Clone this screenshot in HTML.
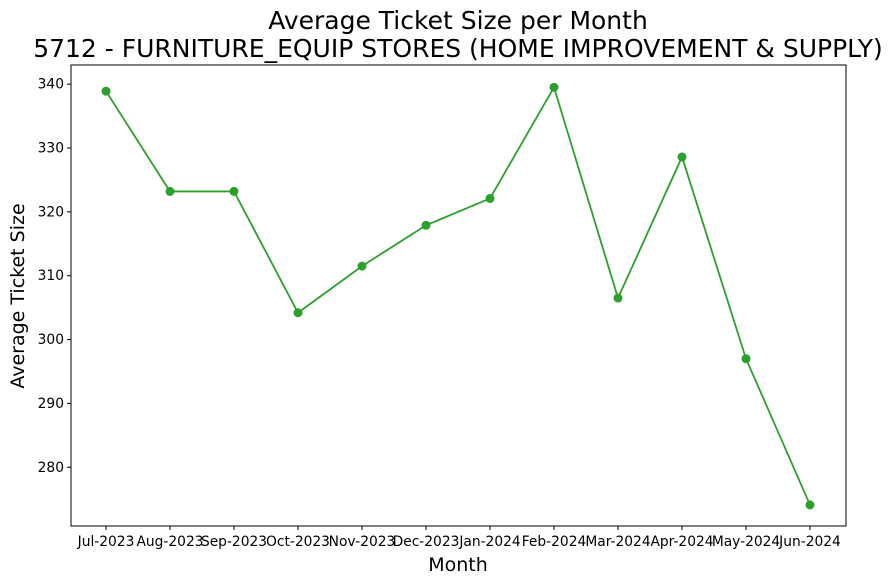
<!DOCTYPE html>
<html><head><meta charset="utf-8"><style>
body{margin:0;background:#fff;}
svg{display:block;font-family:"DejaVu Sans","Liberation Sans",sans-serif;}
</style></head><body>
<svg id="chart" width="893" height="585">
<text x="458" y="29" font-size="25" text-anchor="middle">Average Ticket Size per Month</text>
<text x="458" y="57" font-size="25" text-anchor="middle">5712 - FURNITURE_EQUIP STORES (HOME IMPROVEMENT &amp; SUPPLY)</text>
<text x="458" y="571" font-size="19" text-anchor="middle">Month</text>
<text transform="translate(24,296) rotate(-90)" font-size="19" text-anchor="middle">Average Ticket Size</text>
<g id="ticks"></g>
<g id="plot"></g>
<rect x="71" y="65" width="775" height="461" fill="none" stroke="#000" stroke-width="1"/>
</svg>
<script>
const months=["Jul-2023","Aug-2023","Sep-2023","Oct-2023","Nov-2023","Dec-2023","Jan-2024","Feb-2024","Mar-2024","Apr-2024","May-2024","Jun-2024"];
const values=[338.9,323.2,323.2,304.2,311.5,317.9,322.1,339.5,306.5,328.6,297.0,274.1];
const yTicks=[280,290,300,310,320,330,340];
const NS="http://www.w3.org/2000/svg";
const L=71,R=846,T=65,B=526,ymin=270.8,ymax=343.0;
const x0=106,x1=810;
function xs(i){return x0+i*(x1-x0)/(months.length-1);}
function ys(v){return B-(v-ymin)/(ymax-ymin)*(B-T);}
function mk(tag,a,p){const e=document.createElementNS(NS,tag);for(const k in a)e.setAttribute(k,a[k]);p.appendChild(e);return e;}
const tg=document.getElementById('ticks'),pg=document.getElementById('plot');
yTicks.forEach(t=>{const y=ys(t);
const l=mk('line',{x1:L-4,x2:L,y1:y,y2:y,stroke:'#000'},tg);


const tx=mk('text',{x:L-7,y:y+4.5,'font-size':13.8,'text-anchor':'end'},tg);tx.textContent=t;

});
months.forEach((m,i)=>{const x=xs(i);
const l=mk('line',{x1:x,x2:x,y1:B,y2:B+4,stroke:'#000'},tg);


const tx=mk('text',{x:x,y:B+20,'font-size':13.8,'text-anchor':'middle'},tg);tx.textContent=m;

});
const pl=mk('polyline',{points:values.map((v,i)=>xs(i)+','+ys(v)).join(' '),fill:'none',stroke:'#2ca02c','stroke-width':1.8},pg);


values.forEach((v,i)=>{const c=mk('circle',{cx:xs(i),cy:ys(v),r:4.5,fill:'#2ca02c'},pg);

});
</script>
</body></html>
